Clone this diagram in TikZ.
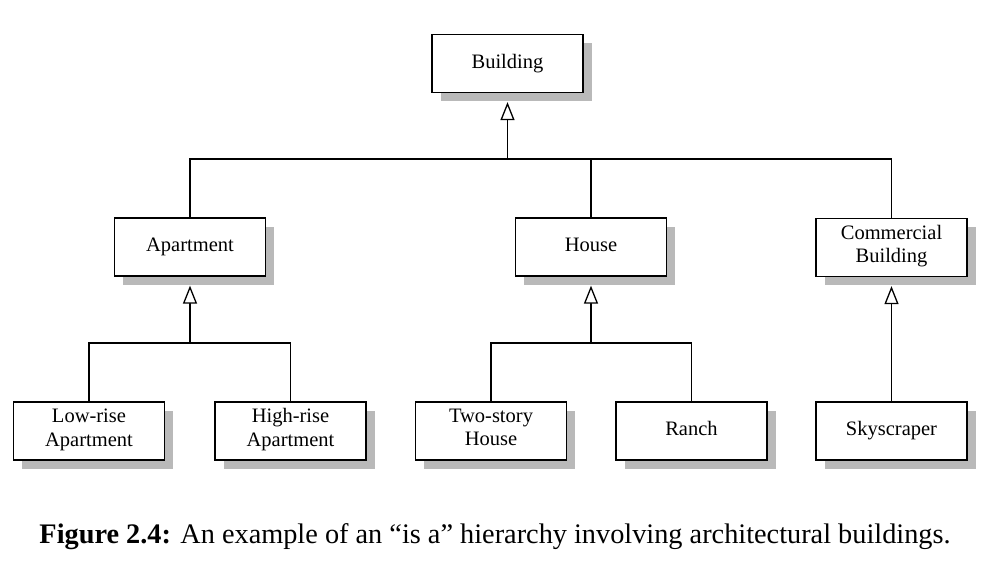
\documentclass[tikz,border=0pt]{standalone}
\usepackage{fontspec}
\setmainfont{Liberation Serif}
\usetikzlibrary{arrows.meta,shadows,calc}
\definecolor{shadowgray}{RGB}{185,185,185}
\tikzset{
  cls/.style={draw, line width=1.3pt, fill=white, minimum width=151pt, minimum height=58pt,
    inner sep=0pt, align=center, font=\fontsize{20.5}{23.5}\selectfont,
    execute at begin node=\strut, execute at end node=\strut,
    drop shadow={shadow xshift=8.5pt, shadow yshift=-8.5pt, fill=shadowgray, opacity=1}},
  link/.style={line width=1.3pt},
  isa/.style={line width=1.3pt, -{Triangle[open, length=18pt, width=14pt, fill=white]}},
  caption/.style={font=\fontsize{28.3}{32}\selectfont, anchor=base, inner sep=0pt}
}
\begin{document}
\begin{tikzpicture}[x=1pt, y=-1pt]
\useasboundingbox (0,0) rectangle (1003,565);
\node[cls] (building) at (507.5,63.5) {Building};
\node[cls] (apt) at (190,247) {Apartment};
\node[cls] (house) at (591,247) {House};
\node[cls] (comm) at (891.5,247.5) {Commercial\\Building};
\node[cls] (low) at (89,431) {Low-rise\\Apartment};
\node[cls] (high) at (290.5,431) {High-rise\\Apartment};
\node[cls] (two) at (491,431) {Two-story\\House};
\node[cls] (ranch) at (691.5,431) {Ranch};
\node[cls] (sky) at (891.5,431) {Skyscraper};
\coordinate (t0) at (507.5,159);
\coordinate (t1) at (190,343);
\coordinate (t2) at (591,343);
% level 1
\draw[link] (apt.north) -- (apt.north |- t0) -- (comm.north |- t0) -- (comm.north);
\draw[link] (house.north) -- (house.north |- t0);
\draw[isa] (t0) -- ($(building.south)+(0,9)$);
% apartment
\draw[link] (low.north) -- (low.north |- t1) -- (high.north |- t1) -- (high.north);
\draw[isa] (t1) -- ($(apt.south)+(0,9)$);
% house
\draw[link] (two.north) -- (two.north |- t2) -- (ranch.north |- t2) -- (ranch.north);
\draw[isa] (t2) -- ($(house.south)+(0,9)$);
% commercial
\draw[isa] (sky.north) -- ($(comm.south)+(0,9)$);
\node[caption] (cap) at (495,543)
  {\textbf{Figure 2.4:} An example of an “is a” hierarchy involving architectural buildings.};
\end{tikzpicture}
\end{document}
